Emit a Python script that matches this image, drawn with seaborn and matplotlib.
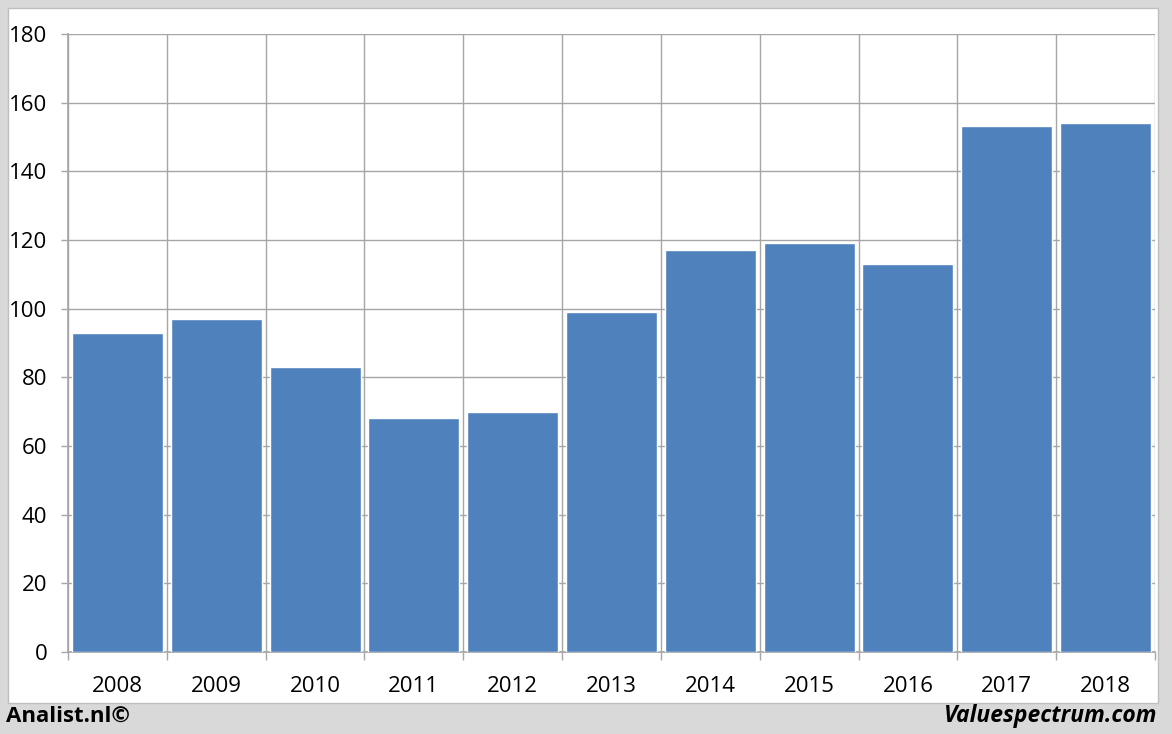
import matplotlib
matplotlib.use("Agg")
import matplotlib.pyplot as plt
import seaborn as sns
import pandas as pd
from matplotlib.patches import Rectangle

years = ["2008", "2009", "2010", "2011", "2012", "2013", "2014", "2015", "2016", "2017", "2018"]
values = [93, 97, 83, 68.3, 70, 99, 117, 119, 113, 153.2, 154]
yticks = [0, 20, 40, 60, 80, 100, 120, 140, 160, 180]

sns.set_theme(style="white")
plt.rcParams['font.family'] = ['Open Sans', 'DejaVu Sans']

df = pd.DataFrame({"year": years, "value": values})

fig = plt.figure(figsize=(11.72, 7.34), dpi=100)
fig.patch.set_facecolor("#d9d9d9")
# white panel
fig.patches.append(Rectangle((8/1172, 1-703/734), (1158-8)/1172, (703-8)/734,
                             transform=fig.transFigure, facecolor="white",
                             edgecolor="#bfbfbf", linewidth=1, zorder=-10))

ax = fig.add_axes([68/1172, 1-652/734, (1155-68)/1172, (652-34)/734])
ax.set_facecolor("none")
sns.barplot(data=df, x="year", y="value", color="#4f81bd", saturation=1,
            width=0.92, ax=ax, zorder=3)

ax.set_ylim(0, 180)
ax.set_xlim(-0.5, len(years) - 0.5)
ax.set_yticks(yticks)
ax.set_yticklabels([str(t) for t in yticks])
for t in yticks:
    ax.axhline(t, color="#a6a6a6", linewidth=1, zorder=1)
for i in range(len(years) + 1):
    ax.axvline(i - 0.5, color="#a6a6a6", linewidth=1, zorder=1)

ax.set_xlabel("")
ax.set_ylabel("")
for s in ax.spines.values():
    s.set_visible(False)
ax.spines["bottom"].set_visible(True)
ax.spines["bottom"].set_color("#a6a6a6")
ax.spines["left"].set_visible(True)
ax.spines["left"].set_color("#a6a6a6")

ax.set_xticks([i - 0.5 for i in range(len(years) + 1)], minor=True)
ax.tick_params(axis="x", which="major", length=0, pad=17, labelsize=16, colors="black")
ax.tick_params(axis="x", which="minor", length=6, color="#a6a6a6", width=1, bottom=True)
ax.tick_params(axis="y", length=5, color="#a6a6a6", width=1, left=True, pad=10,
               labelsize=16, labelcolor="black")

fig.text(6/1172, 1-716/734, "Analist.nl©", fontsize=16, fontweight="bold",
         ha="left", va="center", color="black")
fig.text(1157/1172, 1-716/734, "Valuespectrum.com", fontsize=16.5, fontweight="bold",
         style="italic", ha="right", va="center", color="black")

fig.savefig("out.png", dpi=100, facecolor=fig.get_facecolor())
